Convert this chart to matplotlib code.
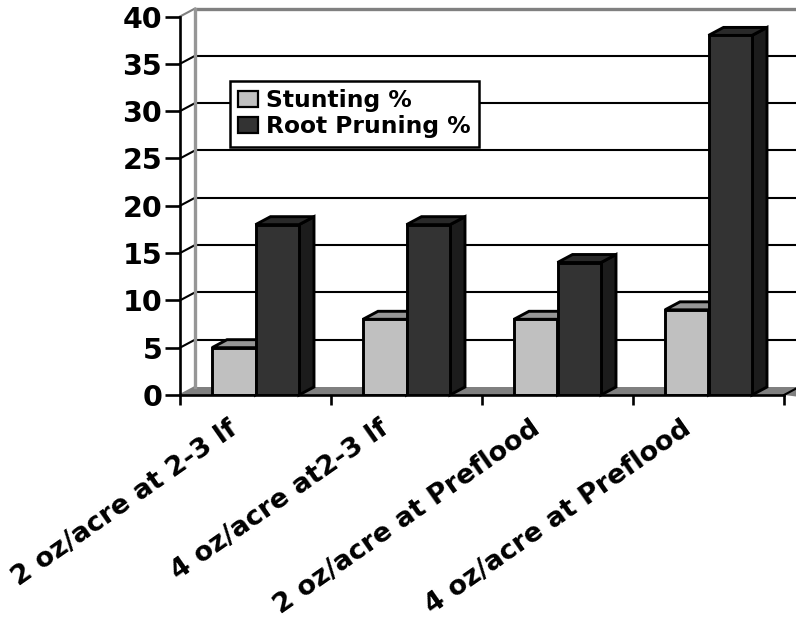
import matplotlib
matplotlib.use("Agg")
import matplotlib.pyplot as plt
from matplotlib.patches import Polygon, Patch

# the reference text is wide, DejaVu bold is closer than Liberation here
plt.rcParams['font.family'] = ['DejaVu Sans']

categories = ['2 oz/acre at 2-3 lf', '4 oz/acre at2-3 lf', '2 oz/acre at Preflood', '4 oz/acre at Preflood']
stunting = [5, 8, 8, 9]
root_pruning = [18, 18, 14, 38]
yticks = [0, 5, 10, 15, 20, 25, 30, 35, 40]

W, H = 796, 627
fig = plt.figure(figsize=(W/100, H/100), dpi=100)
# front plane of the 3d box, pixels from the picture
x0, x1, y0, y1 = 180, 784, 395, 16.5
ax = fig.add_axes([x0/W, 1-y0/H, (x1-x0)/W, (y0-y1)/H])
ax.set_xlim(0, 4)
ax.set_ylim(0, 40)
ax.patch.set_visible(False)

# depth of the box in data units
dx = 15/((x1-x0)/4)
dy = 8/((y0-y1)/40)
bw = 0.288
right = (800-x0)/((x1-x0)/4)

def face(pts, color, z, lw=2.1, ec='black'):
    ax.add_patch(Polygon(pts, closed=True, facecolor=color, edgecolor=ec, linewidth=lw,
                         joinstyle='miter', clip_on=False, zorder=z))

# floor
face([(0, 0), (dx, dy), (right, dy), (4+dx*1.3, -dy*0.3), (4, 0)], '#808080', 1, lw=0)
# wall and gridlines
for t in yticks[1:]:
    c = '#808080' if t == 40 else 'black'
    lw = 2.4 if t == 40 else 1.5
    ax.plot([dx, right], [t+dy, t+dy], color=c, lw=lw, clip_on=False, zorder=1, solid_capstyle='butt')
    ax.plot([0, dx], [t, t+dy], color=c, lw=1.5, clip_on=False, zorder=1)
ax.plot([0, dx], [0, dy], color='#808080', lw=1.5, clip_on=False, zorder=1)
ax.plot([4, 4+dx], [0, dy], color='black', lw=1.5, clip_on=False, zorder=1)
ax.plot([dx, dx], [dy, 40+dy], color='#969696', lw=2.4, clip_on=False, zorder=1.5)

# bars, drawn back to front
for i in range(4):
    c = i + 0.5
    for left, val, front, side, top in [(c-bw, stunting[i], '#c0c0c0', '#606060', '#969696'),
                                        (c, root_pruning[i], '#333333', '#1c1c1c', '#292929')]:
        r = left + bw
        face([(r, 0), (r+dx, dy), (r+dx, val+dy), (r, val)], side, 3+i)
        face([(left, val), (left+dx, val+dy), (r+dx, val+dy), (r, val)], top, 3+i)
        ax.bar(left, val, bw, align='edge', color=front, edgecolor='black', linewidth=2.1, zorder=3.5+i)

for s in ['top', 'right']:
    ax.spines[s].set_visible(False)
for s in ['left', 'bottom']:
    ax.spines[s].set_linewidth(1.9)
    ax.spines[s].set_zorder(10)
ax.set_yticks(yticks)
ax.set_xticks([0, 1, 2, 3, 4])
ax.set_xticklabels([])
ax.tick_params(axis='y', length=10.8, width=1.9, labelsize=20.5, pad=2)
ax.tick_params(axis='x', length=7.2, width=1.9)
for t in ax.get_yticklabels():
    t.set_fontweight('bold')

for i, name in enumerate(categories):
    ax.annotate(name, (i+0.5, 0), xytext=(-20, -15), textcoords='offset points', rotation=35,
                rotation_mode='anchor', ha='right', va='top', fontsize=19.5, fontweight='bold')

handles = [Patch(facecolor='#c0c0c0', edgecolor='black', linewidth=1.6, label='Stunting %'),
           Patch(facecolor='#333333', edgecolor='black', linewidth=1.6, label='Root Pruning %')]
leg = ax.legend(handles=handles, loc='upper left', bbox_to_anchor=((230-x0)/(x1-x0), (y0-81)/(y0-y1)),
                fancybox=False, framealpha=1, edgecolor='black', borderaxespad=0, handlelength=0.85, handleheight=0.7,
                handletextpad=0.35, labelspacing=0.12, borderpad=0.36, prop={'size': 16.8, 'weight': 'bold'})
leg.get_frame().set_linewidth(1.8)
leg.set_zorder(20)

fig.savefig('out.png', dpi=100)
